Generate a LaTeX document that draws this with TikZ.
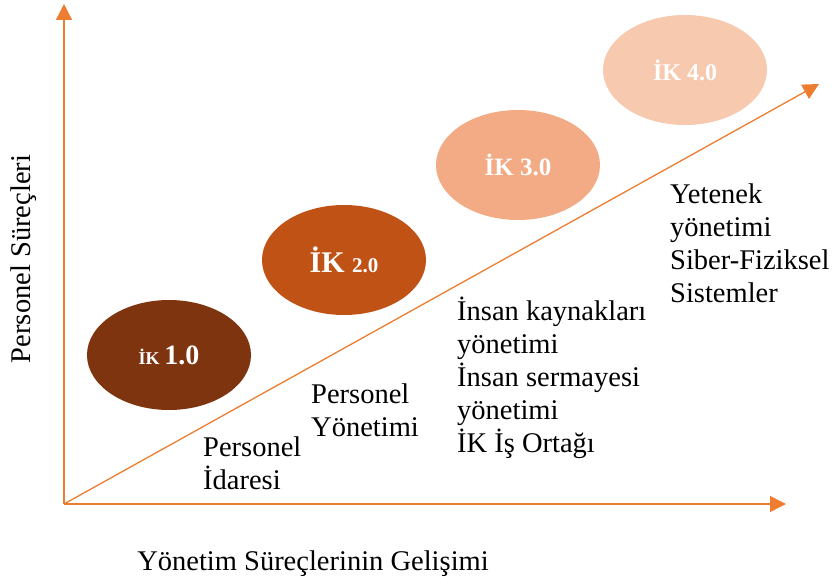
\documentclass[tikz,border=0pt]{standalone}
\usepackage{fontspec}
\setmainfont{Liberation Serif}
\usetikzlibrary{positioning,arrows.meta,shapes.geometric}
\definecolor{hraxis}{HTML}{ED7D31}
\definecolor{hrone}{HTML}{7F3410}
\definecolor{hrtwo}{HTML}{C05216}
\definecolor{hrthree}{HTML}{F2AB85}
\definecolor{hrfour}{HTML}{F7C9AE}

\begin{document}
\begin{tikzpicture}[
  x=1pt, y=-1pt,
  hrbub/.style={ellipse, draw=none, minimum width=164pt, minimum height=110pt,
                inner sep=0pt, text=white, font=\bfseries},
  hrlab/.style={align=left, anchor=base west, inner sep=0pt,
                font=\fontsize{28.5}{33}\selectfont},
  axlab/.style={inner sep=0pt, font=\fontsize{28.5}{33}\selectfont},
  axarrow/.style={-{Triangle[length=16pt,width=16pt]}, draw=hraxis, line width=1.3pt}
]
\useasboundingbox (0,0) rectangle (836,586);
% axes
\coordinate (orig) at (64,504);
\coordinate (ytop) at (64,4);
\coordinate (xend) at (786,504);
\coordinate (dend) at (819,84);
\draw[axarrow] (orig) -- (ytop);
\draw[axarrow] (orig) -- (xend);
\draw[axarrow] (orig) -- (dend);
% stages
\node[hrbub, fill=hrone]   (ik1) at (169,355)
  {\fontsize{18}{18}\selectfont İK \fontsize{28}{28}\selectfont 1.0};
\node[hrbub, fill=hrtwo]   (ik2) at (344,260)
  {\fontsize{30}{30}\selectfont İK \fontsize{21}{21}\selectfont 2.0};
\node[hrbub, fill=hrthree] (ik3) at (518,165)
  {\fontsize{25}{25}\selectfont İK 3.0};
\node[hrbub, fill=hrfour]  (ik4) at (685,70)
  {\fontsize{24}{24}\selectfont İK 4.0};
% descriptions (anchored at the last line)
\node[hrlab] (idare)  at (203,489) {Personel\\İdaresi};
\node[hrlab] (yonet)  at (311,436) {Personel\\Yönetimi};
\node[hrlab] (insan)  at (457,452) {İnsan kaynakları\\yönetimi\\İnsan sermayesi\\yönetimi\\İK İş Ortağı};
\node[hrlab] (yetenek) at (670,302) {Yetenek\\yönetimi\\Siber-Fiziksel\\Sistemler};
% axis labels
\node[axlab, rotate=90] (ylab) at (24,259) {Personel Süreçleri};
\node[axlab] (xlab) at (313,564) {Yönetim Süreçlerinin Gelişimi};
\end{tikzpicture}
\end{document}
